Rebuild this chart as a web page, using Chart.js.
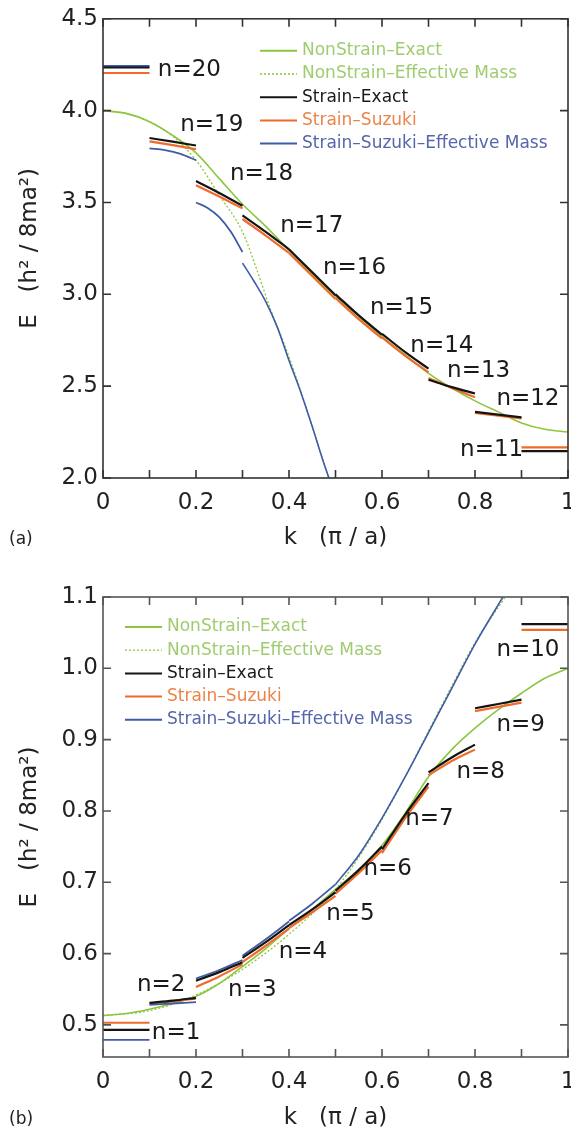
<!DOCTYPE html>
<html>
<head>
<meta charset="utf-8">
<script src="https://cdn.jsdelivr.net/npm/chart.js@4.4.1/dist/chart.umd.min.js"></script>
<style>
  body { margin: 0; background: #fff; width: 571px; height: 1136px; overflow: hidden; position: relative; }
  .panel { position: absolute; left: 0; width: 571px; overflow: hidden; }
  #wrapA { top: 0; height: 560px; }
  #wrapB { top: 560px; height: 576px; }
  canvas { display: block; }
</style>
</head>
<body>
<div class="panel" id="wrapA"><canvas id="chartA" width="600" height="560"></canvas></div>
<div class="panel" id="wrapB"><canvas id="chartB" width="600" height="576"></canvas></div>
<script>
// ---------- panel (a): n = 20 ... 11 ----------
const kA = [0, 0.05, 0.1, 0.15, 0.2, 0.25, 0.3, 0.35, 0.4, 0.45, 0.5, 0.55, 0.6, 0.65, 0.7, 0.75, 0.8, 0.85, 0.9, 0.95, 1.0];
const eA_nonStrainExact = [4.0, 3.985, 3.94, 3.865, 3.77, 3.63, 3.49, 3.37, 3.24, 3.11, 2.99, 2.88, 2.77, 2.67, 2.57, 2.49, 2.42, 2.36, 2.30, 2.265, 2.25];
const kA_effMass = [0, 0.05, 0.1, 0.15, 0.2, 0.25, 0.3, 0.33, 0.36, 0.4, 0.45, 0.49];
const eA_nonStrainEffMass = [4.0, 3.985, 3.94, 3.86, 3.73, 3.54, 3.34, 3.14, 2.92, 2.66, 2.28, 1.96];

// each band is 0.1 wide; the values are sampled at equal steps across it
const kStartA = [0, 0.1, 0.2, 0.3, 0.4, 0.5, 0.6, 0.7, 0.8, 0.9];
const eA_strainExact = [
  [4.235, 4.235], [3.851, 3.831, 3.81], [3.617, 3.552, 3.482], [3.43, 3.34, 3.245], [3.245, 3.12, 2.995],
  [3.0, 2.885, 2.78], [2.785, 2.685, 2.595], [2.535, 2.495, 2.46], [2.36, 2.345, 2.33], [2.146, 2.146]
];
const eA_strainSuzuki = [
  [4.205, 4.205], [3.833, 3.812, 3.79], [3.594, 3.532, 3.468], [3.41, 3.32, 3.225], [3.225, 3.10, 2.975],
  [2.98, 2.865, 2.76], [2.765, 2.665, 2.575], [2.545, 2.49, 2.44], [2.355, 2.34, 2.325], [2.167, 2.167]
];
const eA_suzukiEffMass = [
  [4.243, 4.243], [3.794, 3.785, 3.765, 3.73], [3.50, 3.47, 3.42, 3.34, 3.23]
];
const kA_effTail = [0.3, 0.325, 0.35, 0.375, 0.4, 0.425, 0.45, 0.475, 0.486];
const eA_effTail = [3.17, 3.07, 2.96, 2.82, 2.64, 2.47, 2.28, 2.08, 2.0];

const labelA = ['n=20', 'n=19', 'n=18', 'n=17', 'n=16', 'n=15', 'n=14', 'n=13', 'n=12', 'n=11'];
const labelA_k = [0.118, 0.166, 0.273, 0.381, 0.473, 0.574, 0.661, 0.74, 0.846, 0.768];
const labelA_e = [4.221, 3.924, 3.654, 3.371, 3.141, 2.925, 2.718, 2.583, 2.432, 2.151];
const yTicksA = [2.0, 2.5, 3.0, 3.5, 4.0, 4.5];

// ---------- panel (b): n = 1 ... 10 ----------
const kB = [0, 0.05, 0.1, 0.15, 0.2, 0.25, 0.3, 0.35, 0.4, 0.45, 0.5, 0.55, 0.6, 0.65, 0.7, 0.75, 0.8, 0.85, 0.9, 0.95, 1.0];
const eB_nonStrainExact = [0.513, 0.516, 0.522, 0.53, 0.54, 0.558, 0.582, 0.607, 0.635, 0.662, 0.69, 0.718, 0.752, 0.797, 0.848, 0.886, 0.916, 0.942, 0.965, 0.986, 1.0];
const kB_effMass = [0, 0.1, 0.2, 0.3, 0.4, 0.5, 0.55, 0.6, 0.65, 0.7, 0.75, 0.8, 0.865];
const eB_nonStrainEffMass = [0.513, 0.52, 0.542, 0.578, 0.627, 0.69, 0.735, 0.788, 0.848, 0.912, 0.975, 1.036, 1.1];

const kStartB = [0, 0.1, 0.2, 0.3, 0.4, 0.5, 0.6, 0.7, 0.8, 0.9];
const eB_strainExact = [
  [0.493, 0.493], [0.531, 0.534, 0.538], [0.562, 0.574, 0.588], [0.594, 0.616, 0.64], [0.64, 0.662, 0.686],
  [0.688, 0.717, 0.75], [0.746, 0.795, 0.839], [0.854, 0.875, 0.893], [0.944, 0.95, 0.956], [1.062, 1.062]
];
const eB_strainSuzuki = [
  [0.503, 0.503], [0.53, 0.533, 0.537], [0.553, 0.568, 0.585], [0.588, 0.611, 0.635], [0.636, 0.658, 0.681],
  [0.684, 0.713, 0.745], [0.741, 0.79, 0.834], [0.85, 0.87, 0.886], [0.94, 0.946, 0.952], [1.054, 1.054]
];
const eB_suzukiEffMass = [
  [0.479, 0.479], [0.528, 0.53, 0.532], [0.565, 0.577, 0.591], [0.597, 0.62, 0.645], [0.646, 0.67, 0.697]
];
const kB_effTail = [0.5, 0.55, 0.6, 0.65, 0.7, 0.75, 0.8, 0.86];
const eB_effTail = [0.697, 0.738, 0.79, 0.848, 0.91, 0.972, 1.034, 1.1];

const labelB = ['n=1', 'n=2', 'n=3', 'n=4', 'n=5', 'n=6', 'n=7', 'n=8', 'n=9', 'n=10'];
const labelB_k = [0.105, 0.073, 0.269, 0.378, 0.48, 0.56, 0.65, 0.76, 0.846, 0.846];
const labelB_e = [0.488, 0.556, 0.549, 0.602, 0.656, 0.719, 0.788, 0.855, 0.921, 1.025];
const yTicksB = [0.5, 0.6, 0.7, 0.8, 0.9, 1.0, 1.1];

// ---------- shared ----------
const xTicks = [0, 0.2, 0.4, 0.6, 0.8, 1];
const xMinor = [0, 0.1, 0.2, 0.3, 0.4, 0.5, 0.6, 0.7, 0.8, 0.9, 1];
const legendNames = ['NonStrain–Exact', 'NonStrain–Effective Mass', 'Strain–Exact', 'Strain–Suzuki', 'Strain–Suzuki–Effective Mass'];

const GREEN = '#8cc63f', BLACK = '#141414', ORANGE = '#f06a2a', BLUE = '#3e5ba8';
const legendLine = [GREEN, GREEN, BLACK, ORANGE, BLUE];
const legendText = ['#a0cc70', '#a0cc70', '#1a1a1a', '#ec8448', '#5566aa'];
const legendDash = [[], [2, 2], [], [], []];
const FONT = '"DejaVu Sans", sans-serif';

function bandPoints(k0, values) {
  return values.map((e, i) => ({ x: k0 + 0.1 * i / (values.length - 1), y: e }));
}
function curvePoints(ks, es) {
  return ks.map((k, i) => ({ x: k, y: es[i] }));
}
function lineSet(data, color, width, dash) {
  return {
    data: data,
    borderColor: color,
    borderWidth: width,
    borderDash: dash || [],
    pointRadius: 0,
    fill: false,
    cubicInterpolationMode: 'monotone'
  };
}

// first dataset is drawn on top
function buildSets(p) {
  const sets = [];
  p.kStart.forEach((k0, i) => sets.push(lineSet(bandPoints(k0, p.exact[i]), BLACK, 2.2)));
  p.effMass.forEach((vals, i) => sets.push(lineSet(bandPoints(p.kStart[i], vals), BLUE, 1.8)));
  sets.push(lineSet(curvePoints(p.tailK, p.tailE), BLUE, 1.6));
  p.kStart.forEach((k0, i) => sets.push(lineSet(bandPoints(k0, p.suzuki[i]), ORANGE, 2.2)));
  sets.push(lineSet(curvePoints(p.k, p.green), GREEN, 1.6));
  sets.push(lineSet(curvePoints(p.effK, p.greenEff), GREEN, 1.3, [2, 2]));
  return sets;
}

const decor = {
  id: 'decor',
  afterDatasetsDraw(chart, args, o) {
    const { ctx, chartArea: a } = chart;
    const x = chart.scales.x, y = chart.scales.y;
    ctx.save();
    ctx.strokeStyle = o.frame;
    ctx.lineWidth = 1.6;
    ctx.strokeRect(a.left, a.top, a.right - a.left, a.bottom - a.top);
    ctx.beginPath();
    xMinor.forEach(v => {
      const px = x.getPixelForValue(v);
      ctx.moveTo(px, a.bottom); ctx.lineTo(px, a.bottom - 8);
      ctx.moveTo(px, a.top); ctx.lineTo(px, a.top + 8);
    });
    o.yTicks.forEach(v => {
      const py = y.getPixelForValue(v);
      ctx.moveTo(a.left, py); ctx.lineTo(a.left + 8, py);
      ctx.moveTo(a.right, py); ctx.lineTo(a.right - 8, py);
    });
    ctx.stroke();

    // n = ... labels
    ctx.fillStyle = '#1a1a1a';
    ctx.font = '23px ' + FONT;
    ctx.textBaseline = 'middle';
    ctx.textAlign = 'left';
    o.labels.forEach((t, i) => {
      ctx.fillText(t, x.getPixelForValue(o.labelK[i]), y.getPixelForValue(o.labelE[i]));
    });

    // legend
    ctx.font = '17px ' + FONT;
    legendNames.forEach((name, i) => {
      const lx = a.left + o.legendX, ly = a.top + o.legendY + i * 23.2;
      ctx.beginPath();
      ctx.setLineDash(legendDash[i]);
      ctx.strokeStyle = legendLine[i];
      ctx.lineWidth = i === 1 ? 1.3 : 2;
      ctx.moveTo(lx, ly); ctx.lineTo(lx + 37, ly);
      ctx.stroke();
      ctx.setLineDash([]);
      ctx.fillStyle = legendText[i];
      ctx.fillText(name, lx + 42, ly);
    });

    // panel tag
    ctx.fillStyle = '#222';
    ctx.font = '17px ' + FONT;
    ctx.fillText(o.tag, 9, o.tagY);
    ctx.restore();
  }
};

function makeChart(id, p) {
  return new Chart(document.getElementById(id), {
    type: 'line',
    data: { datasets: buildSets(p) },
    plugins: [decor],
    options: {
      responsive: false,
      animation: false,
      events: [],
      layout: { padding: { top: p.padTop, right: 32, bottom: 0, left: 0 } },
      plugins: {
        legend: { display: false },
        tooltip: { enabled: false },
        decor: p.decor
      },
      scales: {
        x: {
          type: 'linear',
          min: 0,
          max: 1,
          afterBuildTicks: s => { s.ticks = xTicks.map(v => ({ value: v })); },
          afterFit: s => { s.height = p.xHeight; },
          grid: { display: false, drawTicks: false },
          border: { display: false },
          ticks: {
            padding: 11,
            color: '#222',
            font: { family: 'DejaVu Sans', size: 23 },
            maxRotation: 0,
            callback: v => (v === 0 || v === 1) ? String(v) : v.toFixed(1)
          },
          title: {
            display: true,
            text: 'k   (π / a)',
            color: '#222',
            font: { family: 'DejaVu Sans', size: 23 },
            padding: { top: 0, bottom: p.xTitlePad }
          }
        },
        y: {
          type: 'linear',
          min: p.yMin,
          max: p.yMax,
          afterBuildTicks: s => { s.ticks = p.yTicks.map(v => ({ value: v })); },
          afterFit: s => { s.width = 103; },
          grid: { display: false, drawTicks: false },
          border: { display: false },
          ticks: {
            padding: 5,
            color: '#222',
            font: { family: 'DejaVu Sans', size: 23 },
            callback: v => v.toFixed(1)
          },
          title: {
            display: true,
            text: 'E   (h² / 8ma²)',
            color: '#222',
            font: { family: 'DejaVu Sans', size: 23 },
            padding: { top: 16, bottom: 0 }
          }
        }
      }
    }
  });
}

makeChart('chartA', {
  k: kA, green: eA_nonStrainExact, effK: kA_effMass, greenEff: eA_nonStrainEffMass,
  kStart: kStartA, exact: eA_strainExact, suzuki: eA_strainSuzuki, effMass: eA_suzukiEffMass,
  tailK: kA_effTail, tailE: eA_effTail,
  yMin: 2.0, yMax: 4.5, yTicks: yTicksA,
  padTop: 15, xHeight: 82, xTitlePad: 8,
  decor: { frame: '#333', yTicks: yTicksA, labels: labelA, labelK: labelA_k, labelE: labelA_e,
           legendX: 157, legendY: 32, tag: '(a)', tagY: 540 }
});

makeChart('chartB', {
  k: kB, green: eB_nonStrainExact, effK: kB_effMass, greenEff: eB_nonStrainEffMass,
  kStart: kStartB, exact: eB_strainExact, suzuki: eB_strainSuzuki, effMass: eB_suzukiEffMass,
  tailK: kB_effTail, tailE: eB_effTail,
  yMin: 0.455, yMax: 1.1, yTicks: yTicksB,
  padTop: 37, xHeight: 79, xTitlePad: 4,
  decor: { frame: '#555', yTicks: yTicksB, labels: labelB, labelK: labelB_k, labelE: labelB_e,
           legendX: 22, legendY: 30, tag: '(b)', tagY: 560 }
});
</script>
</body>
</html>
